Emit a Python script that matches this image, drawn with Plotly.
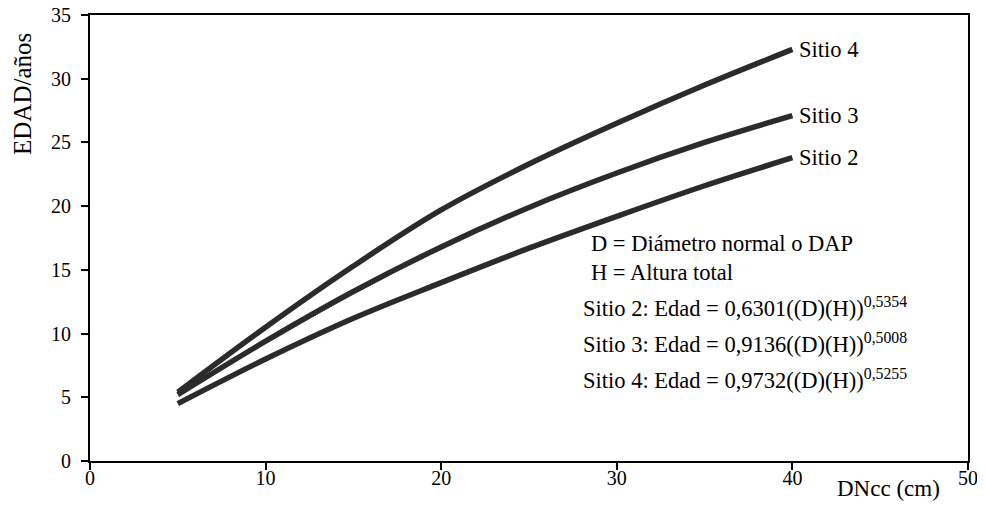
import plotly.graph_objects as go

dncc = [5, 10, 15, 20, 25, 30, 35, 40]
sitio2 = [4.5, 8.0, 11.2, 14.0, 16.7, 19.2, 21.6, 23.8]
sitio3 = [5.2, 9.4, 13.3, 16.8, 19.9, 22.6, 25.0, 27.1]
sitio4 = [5.4, 10.5, 15.3, 19.7, 23.3, 26.5, 29.5, 32.3]
series_names = ["Sitio 2", "Sitio 3", "Sitio 4"]
x_ticks = [0, 10, 20, 30, 40, 50]
y_ticks = [0, 5, 10, 15, 20, 25, 30, 35]
legend_lines = [
    "D = Diámetro normal o DAP",
    "H = Altura total",
    "Sitio 2: Edad = 0,6301((D)(H))<sup>0,5354</sup>",
    "Sitio 3: Edad = 0,9136((D)(H))<sup>0,5008</sup>",
    "Sitio 4: Edad = 0,9732((D)(H))<sup>0,5255</sup>",
]
legend_x = [28.4, 28.4, 27.95, 27.95, 27.95]
legend_y = [17.1, 14.8, 12.1, 9.25, 6.4]

FONT = "Liberation Serif"

fig = go.Figure()
for name, ys in zip(series_names, [sitio2, sitio3, sitio4]):
    fig.add_trace(go.Scatter(
        x=dncc, y=ys, mode="lines", name=name,
        line=dict(color="#2b2b2b", width=5.5, shape="spline"),
        showlegend=False,
    ))
    fig.add_annotation(x=dncc[-1], y=ys[-1], text=name, showarrow=False,
                       xanchor="left", yanchor="middle", xshift=5,
                       font=dict(family=FONT, size=22.5, color="black"))

for txt, xx, yy in zip(legend_lines, legend_x, legend_y):
    fig.add_annotation(x=xx, y=yy, text=txt, showarrow=False,
                       xanchor="left", yanchor="middle",
                       font=dict(family=FONT, size=22.5, color="black"))

fig.add_annotation(xref="paper", yref="paper", x=-0.077, y=0.965,
                   text="EDAD/años", textangle=-90, showarrow=False,
                   xanchor="center", yanchor="top",
                   font=dict(family=FONT, size=25, color="black"))
fig.add_annotation(xref="paper", yref="paper", x=0.97, y=-0.062,
                   text="DNcc (cm)", showarrow=False,
                   xanchor="right", yanchor="middle",
                   font=dict(family=FONT, size=23, color="black"))

axis_common = dict(showgrid=False, zeroline=False, automargin=False,
                   showline=True, linecolor="black", linewidth=2, mirror=True,
                   ticks="outside", ticklen=7, tickwidth=2, tickcolor="black",
                   ticklabeloverflow="allow",
                   tickfont=dict(family=FONT, size=20, color="black"))

fig.update_layout(
    width=977, height=494,
    margin=dict(l=82, r=17, t=7, b=41),
    paper_bgcolor="white", plot_bgcolor="white",
    font=dict(family=FONT, size=20, color="black"),
    xaxis=dict(range=[0, 50], tickvals=x_ticks, ticklabelstandoff=-9, **axis_common),
    yaxis=dict(range=[0, 35], tickvals=y_ticks, ticklabelstandoff=6, **axis_common),
)

fig.write_html("out.html")
